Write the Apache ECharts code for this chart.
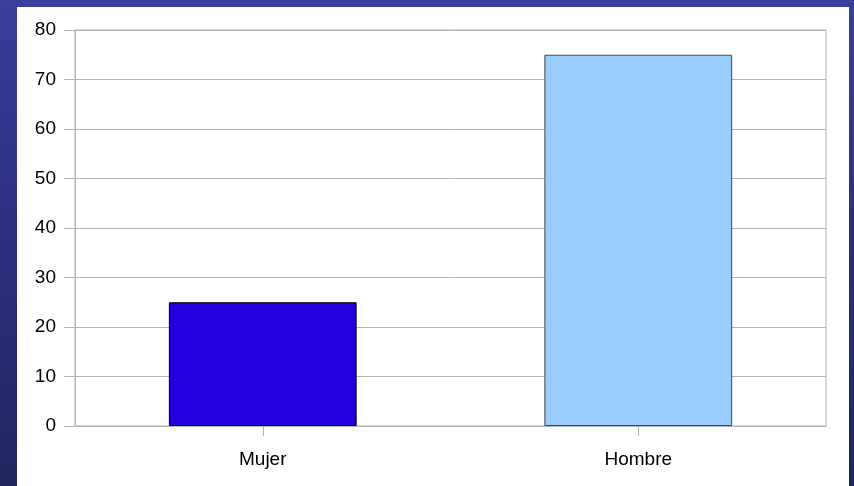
<!DOCTYPE html>
<html>
<head>
<meta charset="utf-8">
<script src="https://cdn.jsdelivr.net/npm/echarts@6/dist/echarts.min.js"></script>
<style>
html,body{margin:0;padding:0;background:#2c2f7c;}
#c{width:854px;height:486px;}
</style>
</head>
<body>
<div id="c"></div>
<script>
var categories = ['Mujer', 'Hombre'];
var values = [25, 75];
var barColors = ['#2200dd', '#99ccff'];
var yTicks = [0, 10, 20, 30, 40, 50, 60, 70, 80];

var chart = echarts.init(document.getElementById('c'));
var gray = '#b3b3b3';
chart.setOption({
  animation: false,
  backgroundColor: {
    type: 'linear', x: 0, y: 0, x2: 0, y2: 1,
    colorStops: [{offset: 0, color: '#3a3e9c'}, {offset: 0.5, color: '#2c2f7e'}, {offset: 1, color: '#22265e'}]
  },
  graphic: [{
    type: 'rect', z: -1,
    shape: {x: 17, y: 7, width: 832, height: 480},
    style: {fill: '#ffffff'}
  }],
  grid: {left: 75, right: 28, top: 30, bottom: 60, show: true, borderColor: gray, borderWidth: 1, backgroundColor: '#ffffff'},
  xAxis: {
    type: 'category',
    data: categories,
    axisLine: {lineStyle: {color: gray, width: 1}},
    axisTick: {show: true, alignWithLabel: true, length: 10, lineStyle: {color: gray, width: 1}},
    axisLabel: {color: '#000', fontFamily: 'Liberation Sans', fontSize: 19, margin: 24}
  },
  yAxis: {
    type: 'value',
    min: yTicks[0], max: yTicks[yTicks.length - 1], interval: 10,
    axisLine: {show: true, lineStyle: {color: gray, width: 1}},
    axisTick: {show: true, length: 11, lineStyle: {color: gray}},
    splitLine: {lineStyle: {color: gray, width: 1}},
    axisLabel: {color: '#000', fontFamily: 'Liberation Sans', fontSize: 19, margin: 19}
  },
  series: [{
    type: 'bar',
    barWidth: '50%',
    data: values.map(function (v, i) {
      return {value: v, itemStyle: {color: barColors[i], borderColor: i === 0 ? '#000000' : '#444444', borderWidth: 1}};
    })
  }]
});
</script>
</body>
</html>
